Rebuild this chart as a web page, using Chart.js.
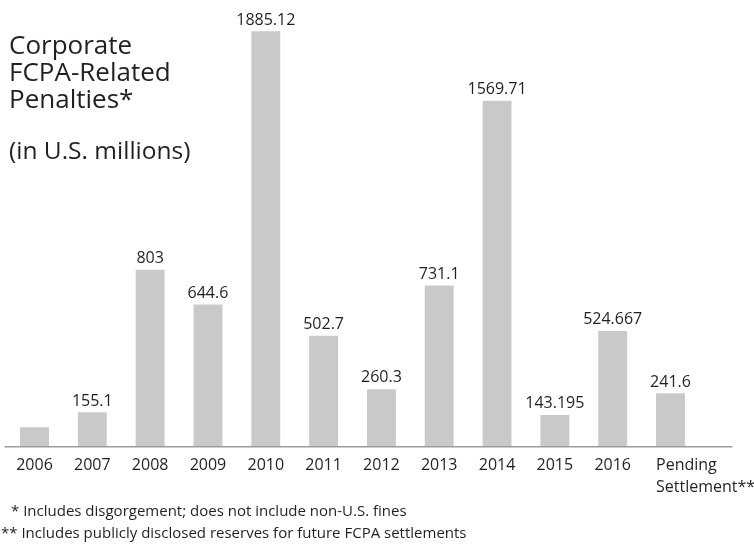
<!DOCTYPE html>
<html><head><meta charset="utf-8">
<script src="https://cdn.jsdelivr.net/npm/chart.js@4"></script>
<style>
html,body{margin:0;padding:0;background:#fff;}
#wrap{position:relative;width:754px;height:546px;overflow:hidden;}
canvas{position:absolute;left:0;top:0;}
.t{position:absolute;font-family:"Open Sans", sans-serif;color:#231f20;white-space:nowrap;}
</style></head><body>
<div id="wrap">
<canvas id="c" width="754" height="546"></canvas>
<div class="t" style="left:9px;top:31px;font-size:26px;line-height:27px;">Corporate<br>FCPA-Related<br>Penalties*</div>
<div class="t" style="left:9px;top:134.5px;font-size:24.5px;line-height:30px;">(in U.S. millions)</div>
<div class="t" style="left:11px;top:499px;font-size:15px;line-height:22px;">* Includes disgorgement; does not include non-U.S. fines</div>
<div class="t" style="left:1px;top:521px;font-size:15px;line-height:22px;">** Includes publicly disclosed reserves for future FCPA settlements</div>
</div>
<script>
const categories = ['2006','2007','2008','2009','2010','2011','2012','2013','2014','2015','2016','Pending Settlement**'];
const penalties = [87, 155.1, 803, 644.6, 1885.12, 502.7, 260.3, 731.1, 1569.71, 143.195, 524.667, 241.6];
const valueLabels = ['', '155.1', '803', '644.6', '1885.12', '502.7', '260.3', '731.1', '1569.71', '143.195', '524.667', '241.6'];
const tickLabels = ['2006','2007','2008','2009','2010','2011','2012','2013','2014','2015','2016',['Pending','Settlement**']];

const FONT = '"Open Sans", sans-serif';
const TEXT = '#231f20';

const extras = {
  id: 'extras',
  afterDatasetsDraw(chart) {
    const ctx = chart.ctx;
    const area = chart.chartArea;
    const meta = chart.getDatasetMeta(0);
    ctx.save();
    // baseline
    ctx.strokeStyle = '#9c9c9c';
    ctx.lineWidth = 1.6;
    ctx.beginPath();
    ctx.moveTo(area.left - 1, area.bottom + 0.3);
    ctx.lineTo(area.right + 33, area.bottom + 0.3);
    ctx.stroke();
    // value labels
    ctx.fillStyle = TEXT;
    ctx.font = '16px ' + FONT;
    ctx.textAlign = 'center';
    ctx.textBaseline = 'alphabetic';
    meta.data.forEach((bar, i) => {
      if (valueLabels[i]) ctx.fillText(valueLabels[i], bar.x, bar.y - 6.7);
    });
    // multi-line last category label, left aligned at its bar's left edge
    const last = meta.data.length - 1;
    const lb = meta.data[last];
    const lines = tickLabels[last];
    ctx.textAlign = 'left';
    ctx.textBaseline = 'alphabetic';
    lines.forEach((s, k) => ctx.fillText(s, lb.x - lb.width / 2, area.bottom + 23.5 + k * 21.7));
    ctx.restore();
  }
};

new Chart(document.getElementById('c'), {
  type: 'bar',
  data: {
    labels: categories,
    datasets: [{
      data: penalties,
      backgroundColor: '#c9c9c9',
      borderWidth: 0,
      barPercentage: 0.5,
      categoryPercentage: 1.0
    }]
  },
  options: {
    responsive: false,
    animation: false,
    layout: { padding: { left: 5.6, right: 54.6, top: 6, bottom: 0 } },
    plugins: { legend: { display: false }, tooltip: { enabled: false } },
    scales: {
      x: {
        grid: { display: false, drawTicks: false },
        border: { display: false },
        ticks: {
          autoSkip: false,
          maxRotation: 0,
          padding: 9,
          color: TEXT,
          font: { size: 16, family: FONT },
          callback: (v, i) => (i === tickLabels.length - 1 ? '' : tickLabels[i])
        },
        afterFit: (s) => { s.height = 99.5; }
      },
      y: { display: false, min: 0, max: 2000 }
    }
  },
  plugins: [extras]
});
</script>
</body></html>
